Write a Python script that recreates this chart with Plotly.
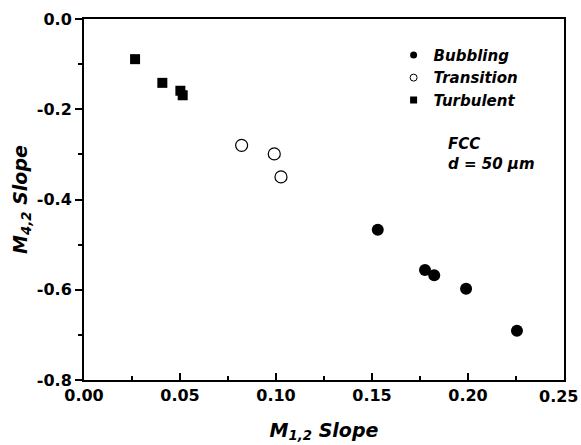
import plotly.graph_objects as go

bub_x = [0.1530, 0.1776, 0.1824, 0.1990, 0.2255]
bub_y = [-0.467, -0.556, -0.568, -0.598, -0.691]
tra_x = [0.0821, 0.0991, 0.1026]
tra_y = [-0.280, -0.299, -0.350]
tur_x = [0.0266, 0.0408, 0.0502, 0.0514]
tur_y = [-0.089, -0.1415, -0.159, -0.169]
x_ticks = [0, 0.05, 0.10, 0.15, 0.20, 0.25]
x_labels = ["0.00", "0.05", "0.10", "0.15", "0.20", "0.25"]
y_ticks = [-0.8, -0.6, -0.4, -0.2, 0.0]
y_labels = ["-0.8", "-0.6", "-0.4", "-0.2", "0.0"]

FONT = "DejaVu Sans"

fig = go.Figure()
fig.add_trace(go.Scatter(x=bub_x, y=bub_y, mode="markers", showlegend=False,
                         marker=dict(symbol="circle", size=12, color="black")))
fig.add_trace(go.Scatter(x=tra_x, y=tra_y, mode="markers", showlegend=False,
                         marker=dict(symbol="circle-open", size=12, color="black", line=dict(width=1.2))))
fig.add_trace(go.Scatter(x=tur_x, y=tur_y, mode="markers", showlegend=False,
                         marker=dict(symbol="square", size=10, color="black")))
# legend entries
fig.add_trace(go.Scatter(x=[None], y=[None], mode="markers", name="Bubbling",
                         marker=dict(symbol="circle", size=7, color="black")))
fig.add_trace(go.Scatter(x=[None], y=[None], mode="markers", name="Transition",
                         marker=dict(symbol="circle-open", size=7, color="black", line=dict(width=1))))
fig.add_trace(go.Scatter(x=[None], y=[None], mode="markers", name="Turbulent",
                         marker=dict(symbol="square", size=7, color="black")))

# last x tick label is drawn as an annotation so it stays inside the page
ticktext = ["<b>%s</b>" % t for t in x_labels[:-1]] + [""]

fig.update_layout(
    width=581, height=445,
    margin=dict(l=84, r=17, t=19, b=65),
    plot_bgcolor="white", paper_bgcolor="white",
    font=dict(family=FONT, color="black"),
    legend=dict(x=0.645, y=0.945, xanchor="left", yanchor="top",
                font=dict(family=FONT, size=15, weight="bold", style="italic"),
                bgcolor="rgba(0,0,0,0)", tracegroupgap=0, itemsizing="trace"),
    annotations=[
        dict(x=0.755, y=0.627, xref="paper", yref="paper", xanchor="left", yanchor="middle",
             align="left", showarrow=False,
             text="<b><i>FCC<br>d = 50 μm</i></b>",
             font=dict(family=FONT, size=15, weight="bold", style="italic")),
        dict(x=x_ticks[-1], y=0, xref="x", yref="paper", xanchor="right", yanchor="middle",
             xshift=15, yshift=-16, showarrow=False, borderpad=0,
             text="<b>%s</b>" % x_labels[-1],
             font=dict(family=FONT, size=16, weight="bold")),
    ],
)
fig.update_xaxes(range=[0, 0.25], tickvals=x_ticks,
                 ticktext=ticktext,
                 automargin=False,
                 ticks="inside", ticklen=7, tickwidth=1.5, tickcolor="black",
                 minor=dict(dtick=0.025, ticks="inside", ticklen=4, tickwidth=1.5, tickcolor="black", showgrid=False),
                 showline=True, linewidth=2, linecolor="black", mirror=True,
                 showgrid=False, zeroline=False,
                 tickfont=dict(family=FONT, size=16, weight="bold"),
                 title=dict(text="<b><i>M<sub>1,2</sub> Slope</i></b>", standoff=19,
                            font=dict(family=FONT, size=19, weight="bold", style="italic")))
fig.update_yaxes(range=[-0.8, 0.0], tickvals=y_ticks,
                 ticktext=["<b>%s</b>" % t for t in y_labels],
                 automargin=False,
                 ticks="outside", ticklen=7, tickwidth=1.5, tickcolor="black",
                 minor=dict(dtick=0.1, ticks="outside", ticklen=4, tickwidth=1.5, tickcolor="black", showgrid=False),
                 showline=True, linewidth=2, linecolor="black", mirror=True,
                 showgrid=False, zeroline=False,
                 tickfont=dict(family=FONT, size=16, weight="bold"),
                 title=dict(text="<b><i>M<sub>4,2</sub> Slope</i></b>", standoff=4,
                            font=dict(family=FONT, size=19, weight="bold", style="italic")))

fig.write_html("out.html")
